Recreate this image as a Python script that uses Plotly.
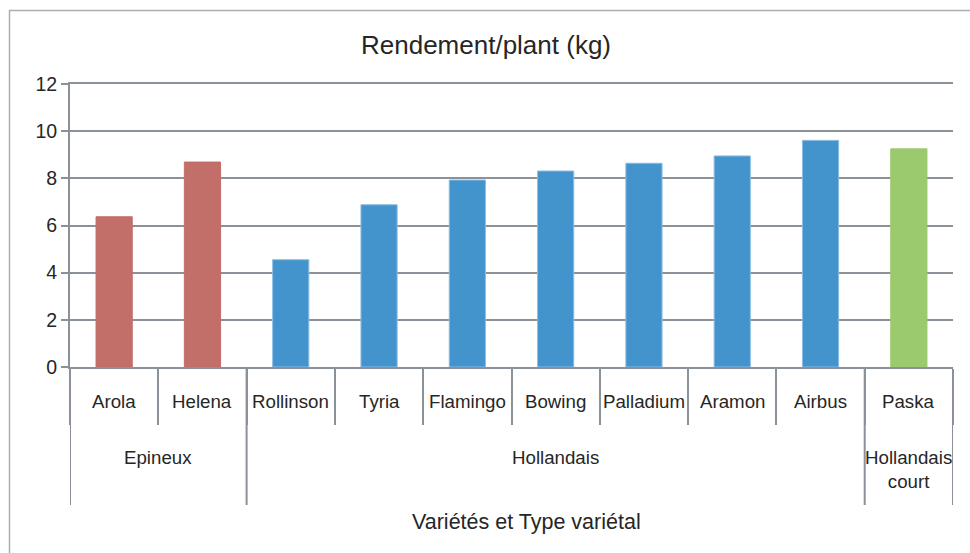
import plotly.graph_objects as go

# Data
varieties = ["Arola", "Helena", "Rollinson", "Tyria", "Flamingo", "Bowing",
             "Palladium", "Aramon", "Airbus", "Paska"]
groups = ["Epineux", "Epineux", "Hollandais", "Hollandais", "Hollandais",
          "Hollandais", "Hollandais", "Hollandais", "Hollandais", "Hollandais court"]
rendement = [6.37, 8.69, 4.55, 6.88, 7.93, 8.31, 8.64, 8.95, 9.61, 9.25]
group_labels = {"Epineux": "Epineux", "Hollandais": "Hollandais",
                "Hollandais court": "Hollandais<br>court"}
group_colors = {"Epineux": "#C26E69", "Hollandais": "#4394CD",
                "Hollandais court": "#9BC96E"}
group_lines = {"Epineux": "#C26E69", "Hollandais": "#8DBDE3",
               "Hollandais court": "#9BC96E"}
y_ticks = [0, 2, 4, 6, 8, 10, 12]

W, H = 970, 553
ML, MR, MT, MB = 70, 17, 84, 186
PH = H - MT - MB
PW = W - ML - MR

def py(px_below_axis):
    """paper y for a pixel offset below the x axis (positive = down)"""
    return -px_below_axis / PH

grid = "#8A9199"
txt = "#262626"
font = "Liberation Sans, Arial, sans-serif"

fig = go.Figure()
fig.add_trace(go.Bar(
    x=varieties, y=rendement,
    marker=dict(color=[group_colors[g] for g in groups],
                line=dict(color=[group_lines[g] for g in groups], width=1)),
    width=0.41, hoverinfo="x+y",
))

shapes = []
# group dividers
bounds = [-0.5]
ordered = []
for i, g in enumerate(groups):
    if i == len(groups) - 1 or groups[i + 1] != g:
        bounds.append(i + 0.5)
        ordered.append(g)
for b in bounds:
    shapes.append(dict(type="line", xref="x", yref="paper", x0=b, x1=b,
                       y0=0, y1=py(138), line=dict(color=grid, width=2)))
# outer frame
shapes.append(dict(type="rect", xref="paper", yref="paper",
                   x0=(9.5 - ML) / PW, x1=(W + 20 - ML) / PW,
                   y0=py(H + 20 - (H - MB)), y1=1 + (MT - 10.5) / PH,
                   line=dict(color="#A9AEB3", width=1.5), fillcolor="rgba(0,0,0,0)"))

annotations = []
for v in varieties:
    annotations.append(dict(xref="x", yref="paper", x=v, y=0, yshift=-34,
                            text=v, showarrow=False, yanchor="middle",
                            font=dict(size=18.7, color=txt, family=font)))
for g in ordered:
    idx = [i for i, gg in enumerate(groups) if gg == g]
    center = (idx[0] + idx[-1]) / 2
    lab = group_labels[g]
    shift = -102 if "<br>" in lab else -90
    annotations.append(dict(xref="x", yref="paper", x=center, y=0, yshift=shift,
                            text=lab, showarrow=False, yanchor="middle",
                            font=dict(size=18.7, color=txt, family=font)))
annotations.append(dict(xref="paper", yref="paper", x=(526 - ML) / PW, y=0,
                        yshift=-155, text="Variétés et Type variétal",
                        showarrow=False, yanchor="middle", xanchor="center",
                        font=dict(size=21.5, color=txt, family=font)))

fig.update_layout(
    width=W, height=H,
    margin=dict(l=ML, r=MR, t=MT, b=MB, pad=0),
    paper_bgcolor="white", plot_bgcolor="white",
    showlegend=False,
    title=dict(text="Rendement/plant (kg)", x=486 / W, xanchor="center",
               y=1 - 45 / H, yanchor="middle", yref="container",
               font=dict(size=26, color=txt, family=font)),
    xaxis=dict(type="category", categoryorder="array", categoryarray=varieties,
               showticklabels=False, showgrid=False, showline=True, mirror=True,
               linecolor=grid, linewidth=2, ticks="outside", tickson="boundaries",
               ticklen=56, tickwidth=2, tickcolor=grid, range=[-0.5, len(varieties) - 0.5],
               fixedrange=True),
    yaxis=dict(range=[0, 12], tickvals=y_ticks, showgrid=True, gridcolor=grid,
               gridwidth=2, showline=True, linecolor=grid, linewidth=2,
               ticks="outside", ticklen=7, tickwidth=2, tickcolor=grid,
               zeroline=False, tickfont=dict(size=19.5, color=txt, family=font),
               fixedrange=True),
    shapes=shapes, annotations=annotations,
    bargap=0.59,
)

fig.write_html("out.html", config={"displayModeBar": False},
               post_script="document.body.style.margin='0';document.body.style.overflow='hidden';")
